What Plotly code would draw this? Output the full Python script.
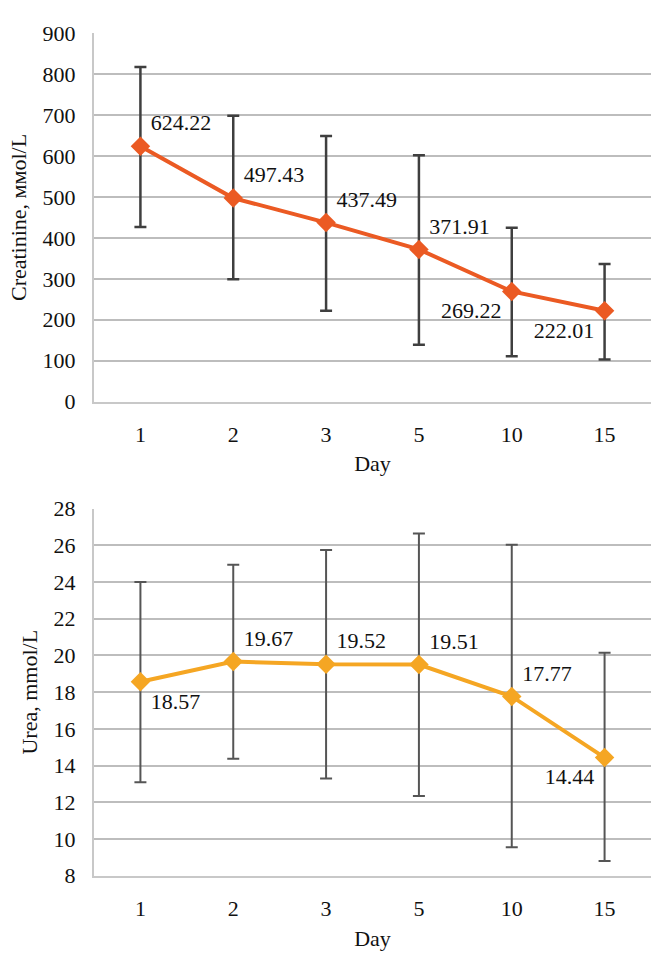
import plotly.graph_objects as go

days = ["1", "2", "3", "5", "10", "15"]

creat_mean = [624.22, 497.43, 437.49, 371.91, 269.22, 222.01]
creat_upper = [818, 699, 649, 602, 425, 336]
creat_lower = [427, 299, 222, 139, 111, 103]
creat_labels = ["624.22", "497.43", "437.49", "371.91", "269.22", "222.01"]
creat_pos = ["top right", "top right", "top right", "top right", "bottom left", "bottom left"]

urea_mean = [18.57, 19.67, 19.52, 19.51, 17.77, 14.44]
urea_upper = [24.0, 24.95, 25.75, 26.65, 26.03, 20.15]
urea_lower = [13.1, 14.37, 13.3, 12.35, 9.55, 8.8]
urea_labels = ["18.57", "19.67", "19.52", "19.51", "17.77", "14.44"]
urea_pos = ["bottom right", "top right", "top right", "top right", "top right", "bottom left"]

FONT = "Liberation Serif"
FS = 22
ERR = "#3f3f3f"
GRID = "#bdbdbd"

fig = go.Figure()

fig.add_trace(go.Scatter(
    x=days, y=creat_mean, xaxis="x", yaxis="y",
    mode="lines+markers+text",
    line=dict(color="#EB5A23", width=4),
    marker=dict(symbol="diamond", size=15, color="#EB5A23"),
    text=creat_labels, textposition=creat_pos,
    textfont=dict(family=FONT, size=FS, color="#111"),
    error_y=dict(type="data", symmetric=False,
                 array=[u - m for u, m in zip(creat_upper, creat_mean)],
                 arrayminus=[m - l for m, l in zip(creat_mean, creat_lower)],
                 color=ERR, thickness=2.5, width=6),
    showlegend=False, cliponaxis=False,
))

fig.add_trace(go.Scatter(
    x=days, y=urea_mean, xaxis="x2", yaxis="y2",
    mode="lines+markers+text",
    line=dict(color="#F5A623", width=4),
    marker=dict(symbol="diamond", size=15, color="#F5A623"),
    text=urea_labels, textposition=urea_pos,
    textfont=dict(family=FONT, size=FS, color="#111"),
    error_y=dict(type="data", symmetric=False,
                 array=[u - m for u, m in zip(urea_upper, urea_mean)],
                 arrayminus=[m - l for m, l in zip(urea_mean, urea_lower)],
                 color="#555555", thickness=2, width=6),
    showlegend=False, cliponaxis=False,
))

xcommon = dict(type="category", range=[-0.5, 5.5], domain=[94 / 651, 1],
               showgrid=False, showline=True, linecolor="#c8c8c8", linewidth=2,
               ticks="", ticklabelstandoff=12,
               tickfont=dict(family=FONT, size=FS, color="#111"),
               title=dict(text="Day", font=dict(family=FONT, size=FS, color="#111"), standoff=10))
ycommon = dict(showgrid=True, gridcolor=GRID, gridwidth=2,
               showline=True, linecolor="#c8c8c8", linewidth=2, zeroline=False,
               ticks="", ticklabelstandoff=12,
               tickfont=dict(family=FONT, size=FS, color="#111"))

fig.update_layout(
    width=651, height=955,
    margin=dict(l=0, r=0, t=0, b=0),
    paper_bgcolor="white", plot_bgcolor="white",
    font=dict(family=FONT, size=FS, color="#111"),
    xaxis=dict(**xcommon, anchor="y"),
    yaxis=dict(**ycommon, domain=[1 - 400 / 955, 1 - 22 / 955], range=[0, 900], dtick=100,
               anchor="x",
               title=dict(text="Creatinine, ммol/L", font=dict(family=FONT, size=FS, color="#111"), standoff=10)),
    xaxis2=dict(**xcommon, anchor="y2"),
    yaxis2=dict(**ycommon, domain=[1 - 887 / 955, 1 - 510 / 955], range=[8, 28], dtick=2,
                anchor="x2",
                title=dict(text="Urea, mmol/L", font=dict(family=FONT, size=FS, color="#111"), standoff=10)),
)

fig.write_html("out.html")
